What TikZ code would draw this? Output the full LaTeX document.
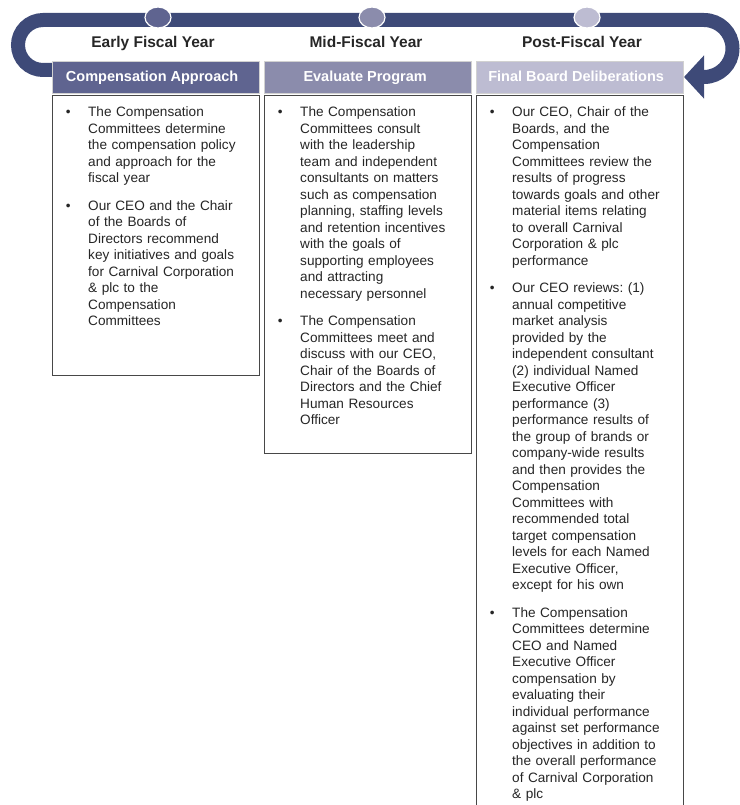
\documentclass[tikz,border=0pt]{standalone}
\usepackage{fontspec}
\setmainfont{Liberation Sans}
\usetikzlibrary{arrows.meta,positioning,shapes.geometric}
\definecolor{CCLNavy}{HTML}{3E4A78}
\definecolor{CCLSlate}{HTML}{5F6490}
\definecolor{CCLLilac}{HTML}{8B8CAC}
\definecolor{CCLMist}{HTML}{BDBCD2}
\definecolor{CCLInk}{HTML}{262626}
\frenchspacing
\newcommand{\ccbody}{\fontsize{13.6pt}{16.5pt}\selectfont}
\newcommand{\ccbul}{\llap{\textbullet\hspace{17.5pt}}}
\tikzset{
  cccycle/.style={draw=CCLNavy,line width=14pt},
  ccdot/.style={
    ellipse,
    draw=white,
    line width=1.2pt,
    minimum width=26pt,
    minimum height=21pt,
    inner sep=0pt
  },
  ccphase/.style={
    anchor=base,
    inner sep=0pt,
    text=CCLInk,
    font=\fontsize{15.5pt}{18pt}\selectfont\bfseries
  },
  cchead/.style={
    draw=black!18,
    line width=0.8pt,
    anchor=north west,
    minimum width=206.5pt,
    minimum height=32pt,
    inner sep=0pt,
    text height=10.5pt,
    text depth=3pt,
    text=white,
    font=\fontsize{14.5pt}{17pt}\selectfont\bfseries
  },
  ccpanel/.style={
    draw=black!72,
    line width=1pt,
    fill=white,
    anchor=north west,
    minimum width=206.5pt,
    inner sep=0pt
  },
  ccitem/.style={
    text width=165pt,
    align=left,
    inner sep=0pt,
    text=CCLInk,
    font=\ccbody,
    execute at begin node=\strut,
    execute at end node=\strut
  }
}

\begin{document}
\begin{tikzpicture}[x=1pt,y=-1pt,node distance=10.5pt and 36pt]
  \useasboundingbox (0,0) rectangle (739,805);
  % the yearly cycle
  \draw[cccycle,-{Triangle[length=20pt,width=42pt]}] (52,70) -- (43,70)
    arc[start angle=90,end angle=270,radius=25] -- (704,20)
    arc[start angle=-90,end angle=90,radius=28.5] -- (684,77);
  \node[ccdot,fill=CCLSlate] (d1) at (158,17.5) {};
  \node[ccdot,fill=CCLLilac] (d2) at (372,17.5) {};
  \node[ccdot,fill=CCLMist] (d3) at (587,17.5) {};

  \node[ccphase] (ph1) at (153,48) {Early Fiscal Year};
  \node[ccphase] (ph2) at (366,48) {Mid-Fiscal Year};
  \node[ccphase] (ph3) at (582,48) {Post-Fiscal Year};

  \node[cchead,fill=CCLSlate] (h1) at (52,61) {Compensation Approach\hspace*{7pt}};
  \node[cchead,fill=CCLLilac] (h2) at (264,61) {Evaluate Program\hspace*{5pt}};
  \node[cchead,fill=CCLMist] (h3) at (476,61) {Final Board Deliberations\hspace*{7pt}};

  \node[ccpanel,minimum height=280pt] (cp1) at (52,95) {};
  \node[ccpanel,minimum height=358pt] (cp2) at (264,95) {};
  \node[ccpanel,minimum height=720pt] (cp3) at (476,95) {};

  % early fiscal year
  \node[ccitem,below right=10pt and 36pt of cp1.north west] (ea1) {\ccbul The Compensation\\
    Committees determine\\ the compensation policy\\ and approach for the\\ fiscal year};
  \node[ccitem,below=of ea1] (ea2) {\ccbul Our CEO and the Chair\\ of the Boards of\\
    Directors recommend\\ key initiatives and goals\\ for Carnival Corporation\\
    \& plc to the\\ Compensation\\ Committees};

  % mid-fiscal year
  \node[ccitem,below right=10pt and 36pt of cp2.north west] (mi1) {\ccbul The Compensation\\
    Committees consult\\ with the leadership\\ team and independent\\
    consultants on matters\\ such as compensation\\ planning, staffing levels\\
    and retention incentives\\ with the goals of\\ supporting employees\\
    and attracting\\ necessary personnel};
  \node[ccitem,below=of mi1] (mi2) {\ccbul The Compensation\\ Committees meet and\\
    discuss with our CEO,\\ Chair of the Boards of\\ Directors and the Chief\\
    Human Resources\\ Officer};

  % post-fiscal year
  \node[ccitem,below right=10pt and 36pt of cp3.north west] (po1) {\ccbul Our CEO, Chair of the\\
    Boards, and the\\ Compensation\\ Committees review the\\ results of progress\\
    towards goals and other\\ material items relating\\ to overall Carnival\\
    Corporation \& plc\\ performance};
  \node[ccitem,below=of po1] (po2) {\ccbul Our CEO reviews: (1)\\ annual competitive\\
    market analysis\\ provided by the\\ independent consultant\\ (2) individual Named\\
    Executive Officer\\ performance (3)\\ performance results of\\
    the group of brands or\\ company-wide results\\ and then provides the\\
    Compensation\\ Committees with\\ recommended total\\ target compensation\\
    levels for each Named\\ Executive Officer,\\ except for his own};
  \node[ccitem,below=of po2] (po3) {\ccbul The Compensation\\ Committees determine\\
    CEO and Named\\ Executive Officer\\ compensation by\\ evaluating their\\
    individual performance\\ against set performance\\ objectives in addition to\\
    the overall performance\\ of Carnival Corporation\\ \& plc};
\end{tikzpicture}
\end{document}
